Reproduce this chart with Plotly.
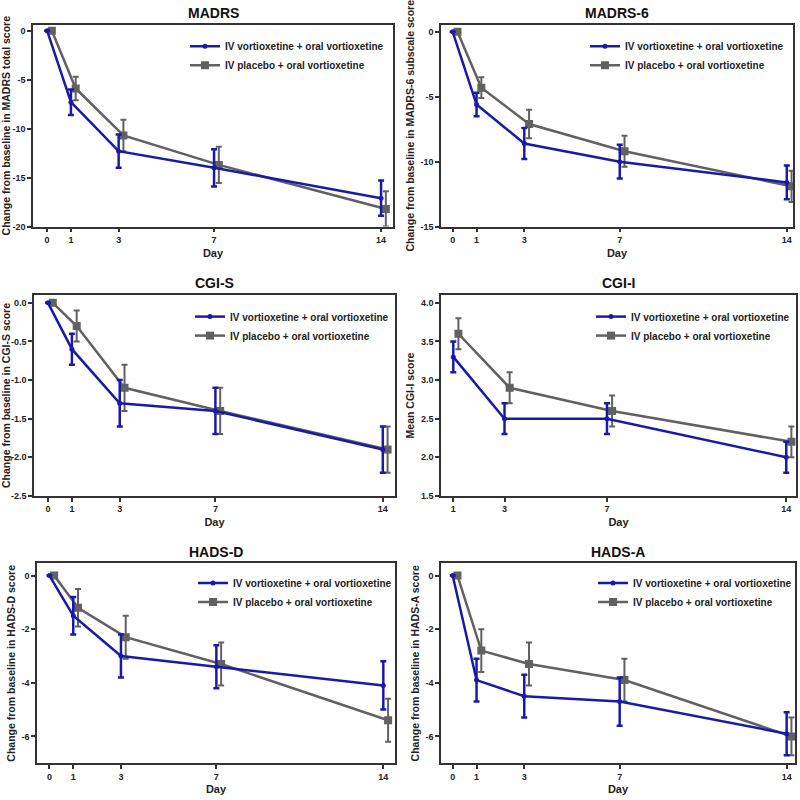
import plotly.graph_objects as go

# ---------------- data ----------------
days = [0, 1, 3, 7, 14]
days_cgii = [1, 3, 7, 14]

madrs_iv = [0, -7.3, -12.3, -14.0, -17.1]
madrs_iv_err = [None, 1.3, 1.7, 1.9, 1.8]
madrs_pbo = [0, -5.9, -10.7, -13.7, -18.2]
madrs_pbo_err = [None, 1.2, 1.6, 1.85, 1.8]

madrs6_iv = [0, -5.6, -8.6, -10.0, -11.6]
madrs6_iv_err = [None, 0.9, 1.2, 1.3, 1.3]
madrs6_pbo = [0, -4.3, -7.1, -9.2, -11.9]
madrs6_pbo_err = [None, 0.8, 1.1, 1.2, 1.2]

cgis_iv = [0, -0.6, -1.3, -1.4, -1.9]
cgis_iv_err = [None, 0.2, 0.3, 0.3, 0.3]
cgis_pbo = [0, -0.3, -1.1, -1.4, -1.9]
cgis_pbo_err = [None, 0.2, 0.3, 0.3, 0.3]

cgii_iv = [3.3, 2.5, 2.5, 2.0]
cgii_iv_err = [0.2, 0.2, 0.2, 0.2]
cgii_pbo = [3.6, 2.9, 2.6, 2.2]
cgii_pbo_err = [0.2, 0.2, 0.2, 0.2]

hadsd_iv = [0, -1.5, -3.0, -3.4, -4.1]
hadsd_iv_err = [None, 0.7, 0.8, 0.8, 0.9]
hadsd_pbo = [0, -1.2, -2.3, -3.3, -5.4]
hadsd_pbo_err = [None, 0.7, 0.8, 0.8, 0.8]

hadsa_iv = [0, -3.9, -4.5, -4.7, -5.9]
hadsa_iv_err = [None, 0.8, 0.8, 0.9, 0.8]
hadsa_pbo = [0, -2.8, -3.3, -3.9, -6.0]
hadsa_pbo_err = [None, 0.8, 0.8, 0.8, 0.7]

titles = ["MADRS", "MADRS-6", "CGI-S", "CGI-I", "HADS-D", "HADS-A"]
ytitles = [
    "Change from baseline in MADRS total score",
    "Change from baseline in MADRS-6 subscale score",
    "Change from baseline in CGI-S score",
    "Mean CGI-I score",
    "Change from baseline in HADS-D score",
    "Change from baseline in HADS-A score",
]
yticks = [
    [0, -5, -10, -15, -20],
    [0, -5, -10, -15],
    [0.0, -0.5, -1.0, -1.5, -2.0, -2.5],
    [4.0, 3.5, 3.0, 2.5, 2.0, 1.5],
    [0, -2, -4, -6],
    [0, -2, -4, -6],
]
ytick_fmt = ["{:.0f}", "{:.0f}", "{:.1f}", "{:.1f}", "{:.0f}", "{:.0f}"]
series_name_iv = "IV vortioxetine + oral vortioxetine"
series_name_pbo = "IV placebo + oral vortioxetine"

panels = [
    (days, madrs_iv, madrs_iv_err, madrs_pbo, madrs_pbo_err),
    (days, madrs6_iv, madrs6_iv_err, madrs6_pbo, madrs6_pbo_err),
    (days, cgis_iv, cgis_iv_err, cgis_pbo, cgis_pbo_err),
    (days_cgii, cgii_iv, cgii_iv_err, cgii_pbo, cgii_pbo_err),
    (days, hadsd_iv, hadsd_iv_err, hadsd_pbo, hadsd_pbo_err),
    (days, hadsa_iv, hadsa_iv_err, hadsa_pbo, hadsa_pbo_err),
]

# ---------------- layout (pixel geometry) ----------------
W = H = 800
frames = [  # x0, x1, y0(top), y1(bottom) in px
    (33, 393, 25, 228),
    (441, 793, 25, 228),
    (34, 395, 297, 499),
    (441, 796, 297, 499),
    (37, 395, 567, 768),
    (441, 795, 567, 768),
]
xranges = [[-0.59, 14.5], [-0.49, 14.26], [-0.585, 14.51], [0.52, 14.38], [-0.52, 14.49], [-0.49, 14.35]]
yranges = [[-20, 0.6], [-15, 0.54], [-2.5, 0.1], [1.5, 4.1], [-7, 0.45], [-7, 0.45]]
legend_text_x = [225, 625, 230, 631, 233, 633]
legend_row1_y = [47, 47, 319, 319, 587, 587]

BLUE = "#1a1aaa"
GRAY = "#616161"
FONT = "Liberation Sans, Arial, sans-serif"
OFFSET = 0.2  # horizontal nudge of placebo series

fig = go.Figure()
layout = dict(
    width=W, height=H, margin=dict(l=0, r=0, t=0, b=0),
    plot_bgcolor="white", paper_bgcolor="white",
    font=dict(family=FONT, color="#222"),
    showlegend=True, annotations=[],
)

for i, (xd, iv, iv_err, pbo, pbo_err) in enumerate(panels):
    k = "" if i == 0 else str(i + 1)
    xa, ya = "x" + k, "y" + k
    lg = "legend" + k
    x0, x1, t, b = frames[i]
    fig.add_trace(go.Scatter(
        x=[d + OFFSET for d in xd], y=pbo, name=series_name_pbo, xaxis=xa, yaxis=ya,
        mode="lines+markers", line=dict(color=GRAY, width=2.5),
        marker=dict(symbol="square", size=8, color=GRAY),
        error_y=dict(type="data", array=pbo_err, visible=True, color=GRAY, thickness=2, width=3),
        legend=lg, legendrank=2,
    ))
    fig.add_trace(go.Scatter(
        x=xd, y=iv, name=series_name_iv, xaxis=xa, yaxis=ya,
        mode="lines+markers", line=dict(color=BLUE, width=2.5),
        marker=dict(symbol="circle", size=5, color=BLUE),
        error_y=dict(type="data", array=iv_err, visible=True, color=BLUE, thickness=2.5, width=3),
        legend=lg, legendrank=1,
    ))
    axis_common = dict(
        showline=True, mirror=True, linecolor="#333", linewidth=1.5,
        ticks="outside", ticklen=4, tickwidth=1.5, tickcolor="#333",
        showgrid=False, zeroline=False,
        tickfont=dict(size=9, family=FONT, weight="bold", color="#222"),
    )
    layout["xaxis" + k] = dict(
        axis_common, domain=[x0 / W, x1 / W], range=xranges[i], anchor=ya,
        tickvals=xd, ticktext=[str(d) for d in xd],
        title=dict(text="Day", font=dict(size=11, family=FONT, weight="bold", color="#222"), standoff=5),
    )
    layout["yaxis" + k] = dict(
        axis_common, domain=[1 - b / H, 1 - t / H], range=yranges[i], anchor=xa,
        tickvals=yticks[i], ticktext=[ytick_fmt[i].format(v).replace("\u2212", "-") for v in yticks[i]],
        title=dict(text=ytitles[i], font=dict(size=10.5, family=FONT, weight="bold", color="#222"), standoff=4),
    )
    layout[lg] = dict(
        x=(legend_text_x[i] - 40) / W, xanchor="left",
        y=1 - (legend_row1_y[i] - 15) / H, yanchor="top",
        bgcolor="rgba(0,0,0,0)", itemwidth=30, tracegroupgap=0,
        font=dict(size=10, family=FONT, weight="bold", color="#222"),
        traceorder="normal",
    )
    layout["annotations"].append(dict(
        text=titles[i], xref="paper", yref="paper",
        x=(x0 + x1) / 2 / W, y=1 - (t - 12) / H, xanchor="center", yanchor="middle",
        showarrow=False, font=dict(size=14, family=FONT, weight="bold", color="#111"),
    ))

fig.update_layout(**layout)
fig.write_html(
    "out.html",
    config={"displayModeBar": False},
    post_script="document.body.style.margin='0';document.body.style.overflow='hidden';",
)
